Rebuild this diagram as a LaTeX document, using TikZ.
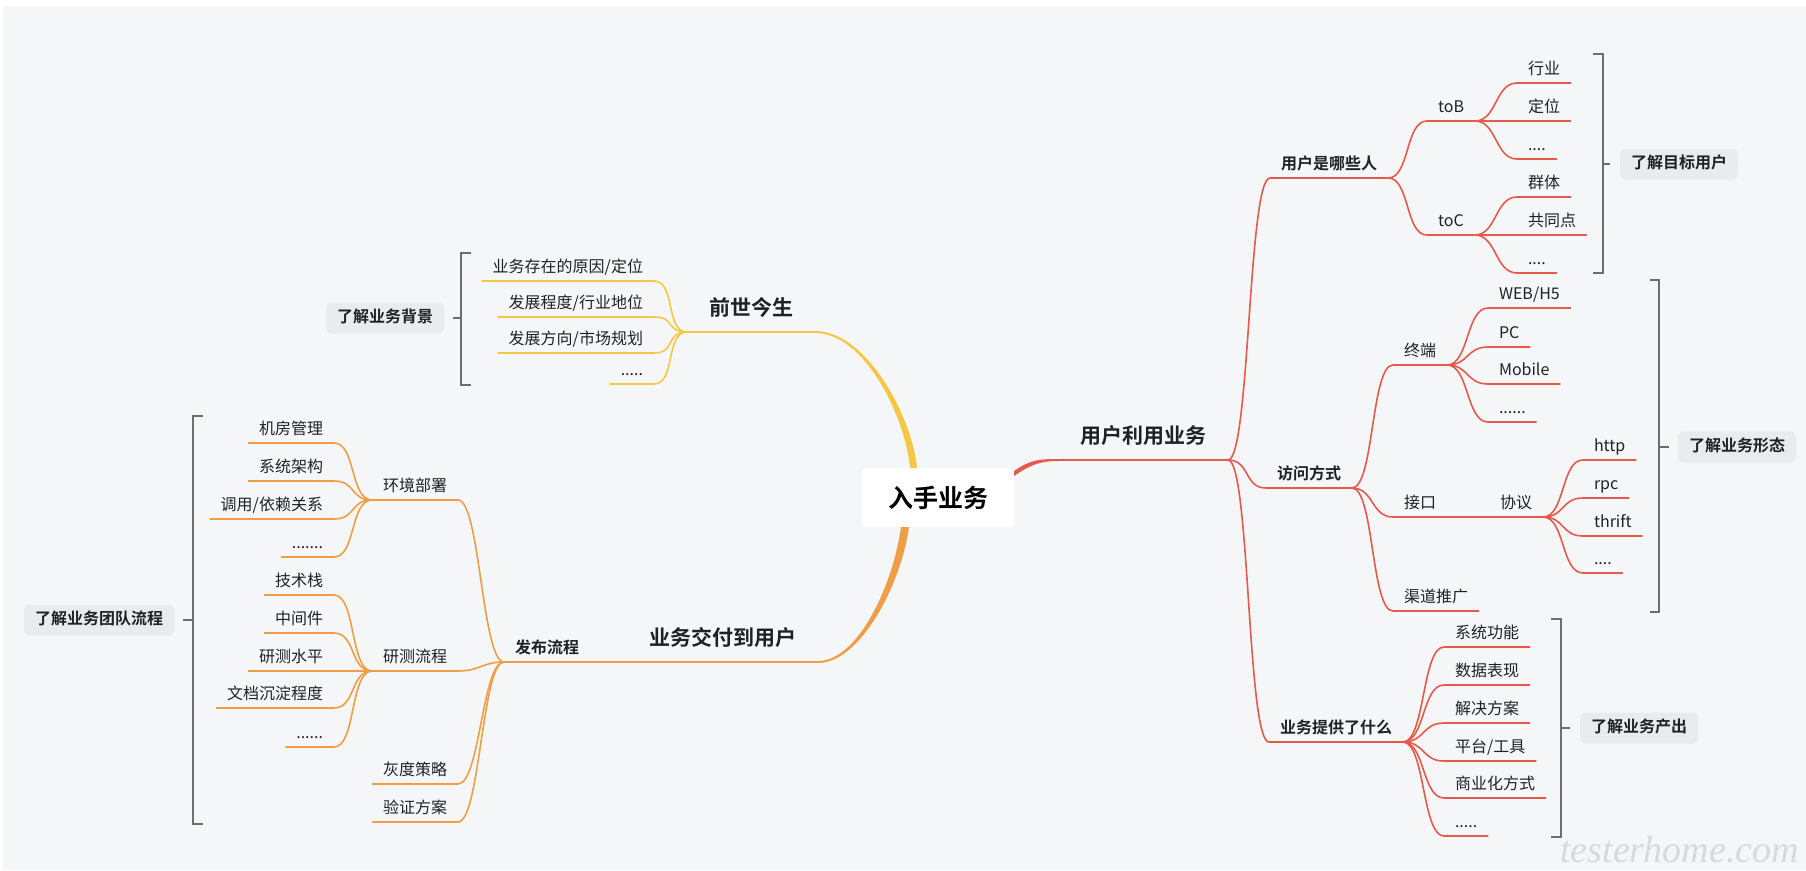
\documentclass[tikz,border=0pt]{standalone}
\usepackage{fontspec}
\setmainfont{Noto Sans CJK SC}[BoldFont={Noto Sans CJK SC Bold}]
\newfontfamily\markfont{Liberation Serif}
\usetikzlibrary{positioning}
\definecolor{paper}{HTML}{F5F6F8}
\definecolor{ink}{HTML}{1E2126}
\definecolor{boxgray}{HTML}{EAEBED}
\definecolor{bracegray}{HTML}{6B6D70}
\definecolor{markgray}{HTML}{D9D9DA}
\definecolor{sunny}{HTML}{F5C747}
\definecolor{amber}{HTML}{EF9E45}
\definecolor{coral}{HTML}{E65A4C}

\begin{document}
\begin{tikzpicture}[x=1pt,y=-1pt,
    topic/.style={text=ink,font=\fontsize{16}{19}\selectfont,inner xsep=11pt,inner ysep=5pt,
      text height=12pt,text depth=4pt,outer sep=0pt},
    subtopic/.style={topic,font=\fontsize{16}{19}\selectfont\bfseries},
    maintopic/.style={topic,font=\fontsize{21}{25}\selectfont\bfseries,inner xsep=22pt,
      inner ysep=12pt,text height=16pt,text depth=5pt},
    hub/.style={fill=white,rounded corners=5pt,minimum width=152pt,minimum height=59pt,
      text=black,font=\fontsize{25}{30}\selectfont\bfseries,outer sep=0pt},
    sumbox/.style={fill=boxgray,rounded corners=5pt,text=ink,font=\fontsize{16}{19}\selectfont\bfseries,
      inner xsep=11pt,minimum height=31pt,text height=12pt,text depth=4pt,outer sep=0pt},
    brace/.style={draw=bracegray,line width=1.5pt},
    yline/.style={draw=sunny,line width=1.6pt},
    oline/.style={draw=amber,line width=1.6pt},
    rline/.style={draw=coral,line width=1.6pt}]
  \useasboundingbox (0,0) rectangle (1806,870);
  \fill[white] (0,0) rectangle (1806,870);
  \fill[paper] (3,6) rectangle (1806,870);

  % Draw nodes
  \node[hub] (hub) at (938,497.5) {入手业务};

  % left, top
  \node[maintopic,anchor=south east] (past) at (815,332) {前世今生};
  \node[topic,anchor=south east] (q1) at (654,281) {业务存在的原因/定位};
  \node[topic,anchor=south east] (q2) at (654,317) {发展程度/行业地位};
  \node[topic,anchor=south east] (q3) at (654,353) {发展方向/市场规划};
  \node[topic,anchor=south east] (q4) at (654,384) {.....};

  % left, bottom
  \node[maintopic,anchor=south east] (deliver) at (818,662) {业务交付到用户};
  \node[subtopic,anchor=south east] (release) at (590,662) {发布流程};
  \node[topic,anchor=south east] (env) at (458,500) {环境部署};
  \node[topic,anchor=south east] (e1) at (334,443) {机房管理};
  \node[topic,anchor=south east] (e2) at (334,481) {系统架构};
  \node[topic,anchor=south east] (e3) at (334,519) {调用/依赖关系};
  \node[topic,anchor=south east] (e4) at (334,557) {.......};
  \node[topic,anchor=south east] (rd) at (458,671) {研测流程};
  \node[topic,anchor=south east] (r1) at (334,595) {技术栈};
  \node[topic,anchor=south east] (r2) at (334,633) {中间件};
  \node[topic,anchor=south east] (r3) at (334,671) {研测水平};
  \node[topic,anchor=south east] (r4) at (334,708) {文档沉淀程度};
  \node[topic,anchor=south east] (r5) at (334,747) {......};
  \node[topic,anchor=south east] (gray) at (458,784) {灰度策略};
  \node[topic,anchor=south east] (verify) at (458,822) {验证方案};

  % right
  \node[maintopic,anchor=south west] (usage) at (1058,460) {用户利用业务};
  \node[subtopic,anchor=south west] (who) at (1270,178) {用户是哪些人};
  \node[topic,anchor=south west] (tob) at (1427,121) {toB};
  \node[topic,anchor=south west] (b1) at (1517,83) {行业};
  \node[topic,anchor=south west] (b2) at (1517,121) {定位};
  \node[topic,anchor=south west] (b3) at (1517,159) {....};
  \node[topic,anchor=south west] (toc) at (1427,235) {toC};
  \node[topic,anchor=south west] (c1) at (1517,197) {群体};
  \node[topic,anchor=south west] (c2) at (1517,235) {共同点};
  \node[topic,anchor=south west] (c3) at (1517,273) {....};

  \node[subtopic,anchor=south west] (access) at (1266,488) {访问方式};
  \node[topic,anchor=south west] (term) at (1393,365) {终端};
  \node[topic,anchor=south west] (t1) at (1488,308) {WEB/H5};
  \node[topic,anchor=south west] (t2) at (1488,347) {PC};
  \node[topic,anchor=south west] (t3) at (1488,384) {Mobile};
  \node[topic,anchor=south west] (t4) at (1488,422) {......};
  \node[topic,anchor=south west] (api) at (1393,517) {接口};
  \node[topic,anchor=south west] (proto) at (1489,517) {协议};
  \node[topic,anchor=south west] (p1) at (1583,460) {http};
  \node[topic,anchor=south west] (p2) at (1583,498) {rpc};
  \node[topic,anchor=south west] (p3) at (1583,536) {thrift};
  \node[topic,anchor=south west] (p4) at (1583,573) {....};
  \node[topic,anchor=south west] (chan) at (1393,611) {渠道推广};

  \node[subtopic,anchor=south west] (offer) at (1269,742) {业务提供了什么};
  \node[topic,anchor=south west] (o1) at (1444,647) {系统功能};
  \node[topic,anchor=south west] (o2) at (1444,685) {数据表现};
  \node[topic,anchor=south west] (o3) at (1444,723) {解决方案};
  \node[topic,anchor=south west] (o4) at (1444,761) {平台/工具};
  \node[topic,anchor=south west] (o5) at (1444,798) {商业化方式};
  \node[topic,anchor=south west] (o6) at (1444,836) {.....};

  % Draw edges
  % tapered main branches
  \fill[sunny] ([yshift=1]past.south east) .. controls +(53,0) and +(-4,-48) .. ([xshift=-21]hub.north)
    -- ([xshift=-28]hub.north) .. controls +(-4,-48) and +(51,0) .. ([yshift=-1]past.south east) -- cycle;
  \fill[amber] ([xshift=-29]hub.south) .. controls +(-8,58) and +(42,0) .. ([yshift=-1]deliver.south east)
    -- ([yshift=1]deliver.south east) .. controls +(40,0) and +(-8,58) .. ([xshift=-37]hub.south) -- cycle;
  \fill[coral] ([yshift=-3]hub.north east) .. controls +(16,-11) and +(-20,0) .. ([yshift=1]usage.south west)
    -- ([yshift=-1]usage.south west) .. controls +(-18,0) and +(16,-11) .. ([yshift=-8]hub.north east) -- cycle;
  \draw[yline] (past.south east) -- (past.south west);
  \draw[oline] (deliver.south east) -- (deliver.south west);
  \draw[rline] (usage.south west) -- (usage.south east);

  % left side
  \foreach \c in {q1,q2,q3,q4}
    \draw[yline] (past.south west) .. controls +(-22,0) and +(22,0) .. (\c.south east) -- (\c.south west);
  \draw[oline] (deliver.south west) -- (release.south east) -- (release.south west);
  \foreach \c in {env,rd,gray,verify}
    \draw[oline] (release.south west) .. controls +(-22,0) and +(22,0) .. (\c.south east) -- (\c.south west);
  \foreach \c in {e1,e2,e3,e4}
    \draw[oline] (env.south west) .. controls +(-22,0) and +(22,0) .. (\c.south east) -- (\c.south west);
  \foreach \c in {r1,r2,r3,r4,r5}
    \draw[oline] (rd.south west) .. controls +(-22,0) and +(22,0) .. (\c.south east) -- (\c.south west);

  % right side
  \foreach \c in {who,access,offer}
    \draw[rline] (usage.south east) .. controls +(22,0) and +(-22,0) .. (\c.south west) -- (\c.south east);
  \foreach \c in {tob,toc}
    \draw[rline] (who.south east) .. controls +(22,0) and +(-22,0) .. (\c.south west) -- (\c.south east);
  \foreach \c in {b1,b2,b3}
    \draw[rline] (tob.south east) .. controls +(22,0) and +(-22,0) .. (\c.south west) -- (\c.south east);
  \foreach \c in {c1,c2,c3}
    \draw[rline] (toc.south east) .. controls +(22,0) and +(-22,0) .. (\c.south west) -- (\c.south east);
  \foreach \c in {term,api,chan}
    \draw[rline] (access.south east) .. controls +(22,0) and +(-22,0) .. (\c.south west) -- (\c.south east);
  \foreach \c in {t1,t2,t3,t4}
    \draw[rline] (term.south east) .. controls +(22,0) and +(-22,0) .. (\c.south west) -- (\c.south east);
  \draw[rline] (api.south east) -- (proto.south west) -- (proto.south east);
  \foreach \c in {p1,p2,p3,p4}
    \draw[rline] (proto.south east) .. controls +(22,0) and +(-22,0) .. (\c.south west) -- (\c.south east);
  \foreach \c in {o1,o2,o3,o4,o5,o6}
    \draw[rline] (offer.south east) .. controls +(22,0) and +(-22,0) .. (\c.south west) -- (\c.south east);

  % Summary brackets
  \coordinate (bgTop) at (461,253); \coordinate (bgBot) at (461,385); \coordinate (bgMid) at (461,318);
  \draw[brace] ([xshift=10]bgTop) -- (bgTop) -- (bgBot) -- ([xshift=10]bgBot);
  \draw[brace] (bgMid) -- ++(-8,0) coordinate (bgTip);
  \node[sumbox,left=9pt of bgTip] (bgLabel) {了解业务背景};

  \coordinate (tmTop) at (193,416); \coordinate (tmBot) at (193,824); \coordinate (tmMid) at (193,620);
  \draw[brace] ([xshift=10]tmTop) -- (tmTop) -- (tmBot) -- ([xshift=10]tmBot);
  \draw[brace] (tmMid) -- ++(-10,0) coordinate (tmTip);
  \node[sumbox,left=9pt of tmTip] (tmLabel) {了解业务团队流程};

  \coordinate (tuTop) at (1603,54); \coordinate (tuBot) at (1603,273); \coordinate (tuMid) at (1603,164);
  \draw[brace] ([xshift=-10]tuTop) -- (tuTop) -- (tuBot) -- ([xshift=-10]tuBot);
  \draw[brace] (tuMid) -- ++(7,0) coordinate (tuTip);
  \node[sumbox,right=10pt of tuTip] (tuLabel) {了解目标用户};

  \coordinate (fmTop) at (1659,280); \coordinate (fmBot) at (1659,612); \coordinate (fmMid) at (1659,447);
  \draw[brace] ([xshift=-9]fmTop) -- (fmTop) -- (fmBot) -- ([xshift=-9]fmBot);
  \draw[brace] (fmMid) -- ++(10,0) coordinate (fmTip);
  \node[sumbox,right=9pt of fmTip] (fmLabel) {了解业务形态};

  \coordinate (opTop) at (1561,619); \coordinate (opBot) at (1561,837); \coordinate (opMid) at (1561,728);
  \draw[brace] ([xshift=-10]opTop) -- (opTop) -- (opBot) -- ([xshift=-10]opBot);
  \draw[brace] (opMid) -- ++(9,0) coordinate (opTip);
  \node[sumbox,right=10pt of opTip] (opLabel) {了解业务产出};

  % Watermark
  \node[anchor=base west,inner sep=0pt,text=markgray,font=\markfont\itshape\fontsize{38}{44}\selectfont]
    (mark) at (1560,862) {testerhome.com};
\end{tikzpicture}
\end{document}
